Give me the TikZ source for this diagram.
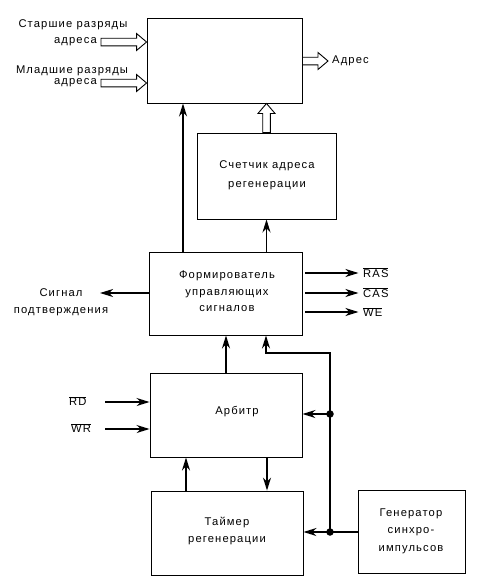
\documentclass[tikz,border=0pt]{standalone}
\usepackage{fontspec}
\setmainfont{Liberation Sans}[LetterSpace=10]
\usetikzlibrary{arrows.meta,calc}
\begin{document}
\begin{tikzpicture}[x=1pt,y=-1pt,
  box/.style={draw, line width=0.9pt, inner sep=0pt},
  txt/.style={font=\fontsize{11.2}{17.5}\selectfont, align=center, inner sep=0pt},
  arr/.style={line width=1.4pt, -{Stealth[length=13pt,width=8pt,inset=4pt]}},
  hollow/.style={line width=0.9pt, fill=white, to path={
     let \p1=(\tikztostart), \p2=(\tikztotarget),
         \n1={atan2(\y2-\y1,\x2-\x1)}, \n2={veclen(\x2-\x1,\y2-\y1)} in
     [shift={(\p1)}, rotate=\n1]
     (0,-3.8) -- (\n2-10,-3.8) -- (\n2-10,-8.5) -- (\n2,0) -- (\n2-10,8.5) -- (\n2-10,3.8) -- (0,3.8) -- cycle}},
  dot/.style={circle, fill, inner sep=0pt, minimum size=7.5pt}]
\useasboundingbox (0,0) rectangle (495,584);
% boxes
\node[box, minimum width=155pt, minimum height=85pt] (top) at (224.5,60.5) {};
\node[box, minimum width=139pt, minimum height=86pt] (cnt) at (266.5,176) {};
\node[txt, font=\fontsize{11.2}{19}\selectfont] at (267,175.5) {Счетчик адреса\\регенерации};
\node[box, minimum width=153pt, minimum height=83pt] (form) at (225.5,293.5) {};
\node[txt, font=\fontsize{11.2}{16.5}\selectfont] at (227,291.5) {Формирователь\\управляющих\\сигналов};
\node[box, minimum width=152pt, minimum height=84pt] (arb) at (226,415) {};
\node[txt] at (237,412) {Арбитр};
\node[box, minimum width=152pt, minimum height=84pt] (tim) at (227,533) {};
\node[txt, font=\fontsize{11.2}{17}\selectfont] at (227,530.5) {Таймер\\регенерации};
\node[box, minimum width=107pt, minimum height=83pt] (gen) at (411.5,531.5) {};
\node[txt] at (411,531) {Генератор\\синхро-\\импульсов};
% top inputs
\node[txt] (l1) at (73,25) {Старшие разряды};
\node[txt, anchor=east] (l2) at (97,42) {адреса};
\node[txt] (l3) at (72,71) {Младшие разряды};
\node[txt, anchor=east] (l4) at (97,83) {адреса};
\coordinate (i1) at (101,42);
\coordinate (i2) at (101,83);
\draw[hollow] (i1) to (i1 -| top.west);
\draw[hollow] (i2) to (i2 -| top.west);
% address out
\node[txt, anchor=west] (adr) at (332,61) {Адрес};
\draw[hollow] (top.east |- adr) to ($(adr.west)+(-4,0)$);
% counter to top
\draw[hollow] (cnt.north) to (top.south -| cnt.north);
% form to top, form to counter
\draw[arr] (form.north -| 183,0) -- (top.south -| 183,0);
\draw[arr] (form.north -| cnt.south) -- (cnt.south);
% form outputs
\node[txt, anchor=west] (ras) at (363,273) {$\overline{\mbox{RAS}}$};
\node[txt, anchor=west] (cas) at (363,293) {$\overline{\mbox{CAS}}$};
\node[txt, anchor=west] (we) at (363,312) {$\overline{\mbox{WE}}$};
\draw[arr] (form.east |- ras) ++(3,0) -- ++(53,0);
\draw[arr] (form.east |- cas) ++(3,0) -- ++(53,0);
\draw[arr] (form.east |- we) ++(3,0) -- ++(53,0);
% acknowledge
\node[txt] (ack) at (61,302) {Сигнал\\подтверждения};
\draw[arr] (form.west |- 0,293) -- (100,293);
% arbiter inputs
\node[txt, anchor=west] (rd) at (69,401) {$\overline{\mbox{RD}}$};
\node[txt, anchor=west] (wr) at (71,428) {$\overline{\mbox{WR}}$};
\draw[arr] (105,402) -- (arb.west |- 0,402);
\draw[arr] (105,429) -- (arb.west |- 0,429);
% arbiter to form
\draw[arr] (arb.north -| 226,0) -- (form.south -| 226,0);
% clock bus
\node[dot] (d1) at (330,414) {};
\node[dot] (d2) at (330,532) {};
\draw[line width=1.4pt] (gen.west |- d2) -- (d2.center);
\draw[arr] (d2.center) -- (tim.east |- d2);
\draw[arr] (d1.center) -- (arb.east |- d1);
\draw[arr] (d2.center) -- (d1.center) -- (330,353) -- (266,353) -- (form.south -| 266,0);
% arbiter <-> timer
\draw[arr] (tim.north -| 186,0) -- (arb.south -| 186,0);
\draw[arr] (arb.south -| 267,0) -- (tim.north -| 267,0);
\end{tikzpicture}
\end{document}
